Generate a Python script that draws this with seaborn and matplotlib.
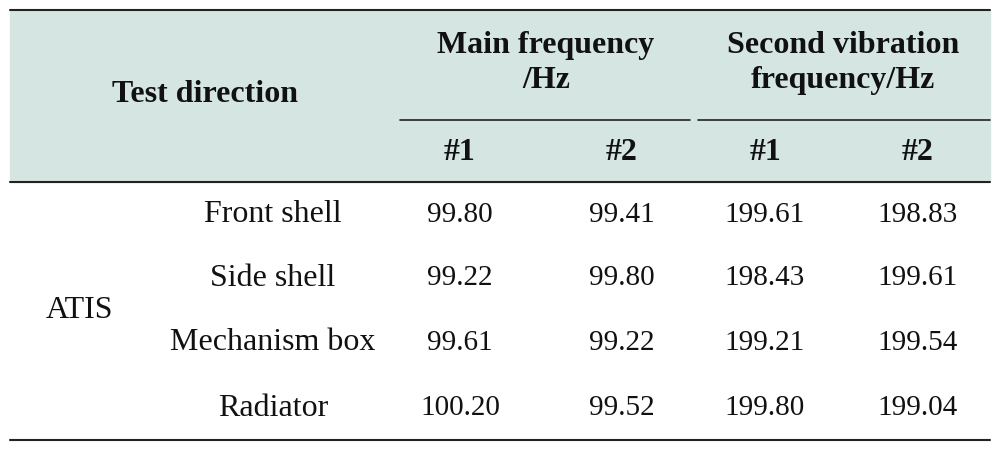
import matplotlib.pyplot as plt
import seaborn as sns

sns.set_theme(style="white")
plt.rcParams["font.family"] = "Liberation Serif"

group = "ATIS"
parts = ["Front shell", "Side shell", "Mechanism box", "Radiator"]
main_1 = ["99.80", "99.22", "99.61", "100.20"]
main_2 = ["99.41", "99.80", "99.22", "99.52"]
second_1 = ["199.61", "198.43", "199.21", "199.80"]
second_2 = ["198.83", "199.61", "199.54", "199.04"]

fig = plt.figure(figsize=(9.96, 4.5), dpi=100)
ax = fig.add_axes([0, 0, 1, 1])
ax.set_xlim(0, 996)
ax.set_ylim(450, 0)
ax.axis("off")

# header band
ax.axhspan(10, 182, xmin=10 / 996, xmax=990 / 996, color="#d5e6e2", zorder=0)
ax.plot([10, 990], [10, 10], color="#222222", lw=1.5)
ax.plot([10, 990], [182, 182], color="#222222", lw=1.5)
ax.plot([10, 990], [440, 440], color="#222222", lw=1.5)
ax.plot([400, 690], [120, 120], color="#222222", lw=1.2)
ax.plot([698, 990], [120, 120], color="#222222", lw=1.2)

fs_word = 23
fs_num = 21
hdr = dict(fontsize=fs_word, fontweight="bold", ha="center", va="center", color="#111111")
ax.text(205, 95, "Test direction", **hdr)
ax.text(546, 63, "Main frequency\n/Hz", linespacing=1.3, **hdr)
ax.text(843, 63, "Second vibration\nfrequency/Hz", linespacing=1.3, **hdr)
col_x = [460, 622, 765, 918]
for x, lab in zip(col_x, ["#1", "#2", "#1", "#2"]):
    ax.text(x, 152, lab, **hdr)

body = dict(ha="center", va="center", color="#111111")
row_y = [215, 278, 343, 408]
ax.text(80, 311, group, fontsize=fs_word, **body)
for y, p, a, b, c, d in zip(row_y, parts, main_1, main_2, second_1, second_2):
    ax.text(273, y, p, fontsize=fs_word, **body)
    for x, v in zip(col_x, [a, b, c, d]):
        ax.text(x, y, v, fontsize=fs_num, **body)

fig.savefig("out.png", dpi=100)
